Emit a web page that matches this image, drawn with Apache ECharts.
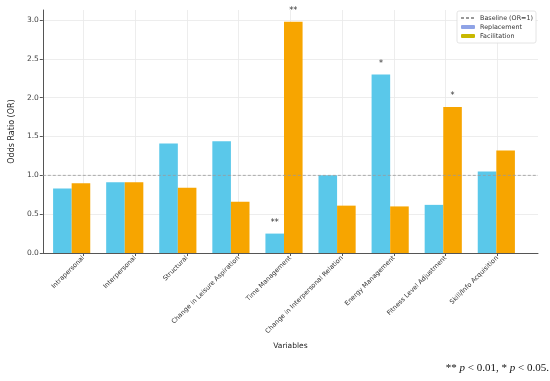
<!DOCTYPE html>
<html>
<head>
<meta charset="utf-8">
<script src="https://cdn.jsdelivr.net/npm/echarts@6/dist/echarts.min.js"></script>
<style>html,body{margin:0;padding:0;background:#fff;}#c{width:550px;height:381px;}</style>
</head>
<body>
<div id="c"></div>
<script>
const categories = ['Intrapersonal','Interpersonal','Structural','Change in Leisure Aspiration','Time Management','Change in Interpersonal Relation','Energy Management','Fitness Level Adjustment','Skill/Info Acquisition'];
const replacement = [0.83, 0.91, 1.41, 1.44, 0.25, 1.00, 2.30, 0.62, 1.05];
const facilitation = [0.90, 0.91, 0.84, 0.66, 2.98, 0.61, 0.60, 1.88, 1.32];
const replStars = ['', '', '', '', '**', '', '*', '', ''];
const faciStars = ['', '', '', '', '**', '', '', '*', ''];
const yTicks = [0, 0.5, 1.0, 1.5, 2.0, 2.5, 3.0];
const xPositions = categories.map((c, i) => i);

// layout (pixels)
const W = 550, gl = 30, gr = 12;
const xMin = -0.785, xMax = 8.785;
const unit = (W - gl - gr) / (xMax - xMin);
const barGridLeft = gl + (-0.5 - xMin) * unit;
const barGridRight = gr + (xMax - 8.5) * unit;
const yMax = 3.13;

function mk(vals, stars) {
  return vals.map((v, i) => {
    const d = { value: v };
    if (stars[i]) {
      d.label = { show: true, position: 'top', distance: 7, formatter: stars[i], fontSize: 8, color: '#333' };
    }
    return d;
  });
}

const chart = echarts.init(document.getElementById('c'), null, { renderer: 'canvas' });
chart.setOption({
  animation: false,
  backgroundColor: '#fff',
  textStyle: { fontFamily: 'DejaVu Sans' },
  grid: [
    { left: gl, right: gr, top: 10, bottom: 128 },
    { left: barGridLeft, right: barGridRight, top: 10, bottom: 128 }
  ],
  legend: {
    orient: 'vertical',
    right: 14, top: 11,
    padding: [4, 3, 4, 3],
    itemGap: 3,
    itemWidth: 14, itemHeight: 4,
    borderColor: '#dddddd', borderWidth: 0.8, borderRadius: 2,
    backgroundColor: 'rgba(255,255,255,0.85)',
    textStyle: { fontSize: 6.4, color: '#333', fontFamily: 'DejaVu Sans' },
    data: [
      { name: 'Baseline (OR=1)', itemStyle: { opacity: 0 }, lineStyle: { opacity: 1 } },
      { name: 'Replacement', itemStyle: { color: '#8fa3e6' } },
      { name: 'Facilitation', itemStyle: { color: '#c8b800' } }
    ]
  },
  xAxis: [
    {
      gridIndex: 0,
      type: 'value',
      min: xMin, max: xMax,
      name: 'Variables',
      nameLocation: 'middle',
      nameGap: 77,
      nameTextStyle: { fontSize: 7.5, color: '#222' },
      axisLine: { show: true, onZero: false, lineStyle: { color: '#555', width: 1 } },
      axisTick: { show: true, length: 3, customValues: xPositions, lineStyle: { color: '#555' } },
      splitLine: { show: true, lineStyle: { color: '#e8e8e8', width: 0.8 } },
      axisLabel: {
        customValues: xPositions,
        rotate: 45,
        fontSize: 6.5,
        color: '#333',
        margin: 4,
        formatter: v => categories[Math.round(v)]
      }
    },
    {
      gridIndex: 1,
      type: 'category',
      data: categories,
      show: false
    }
  ],
  yAxis: [
    {
      gridIndex: 0,
      type: 'value',
      min: 0, max: yMax,
      name: 'Odds Ratio (OR)',
      nameLocation: 'middle',
      nameGap: 21,
      nameTextStyle: { fontSize: 8, color: '#222' },
      axisLine: { show: true, onZero: false, lineStyle: { color: '#555', width: 1 } },
      axisTick: { show: true, length: 3, customValues: yTicks, lineStyle: { color: '#555' } },
      splitLine: { show: true, lineStyle: { color: '#e8e8e8', width: 0.8 } },
      axisLabel: {
        customValues: yTicks,
        fontSize: 7.5,
        color: '#444',
        margin: 4,
        formatter: v => v.toFixed(1)
      }
    },
    {
      gridIndex: 1,
      type: 'value',
      min: 0, max: yMax,
      show: false,
      splitLine: { show: false }
    }
  ],
  series: [
    {
      name: 'Baseline (OR=1)',
      type: 'line',
      xAxisIndex: 0, yAxisIndex: 0,
      data: [[xMin, 1], [xMax, 1]],
      showSymbol: false,
      symbol: 'none',
      z: 5,
      itemStyle: { color: '#999' },
      lineStyle: { color: '#999', width: 0.8, type: [3, 2] }
    },
    {
      name: 'Replacement',
      type: 'bar',
      xAxisIndex: 1, yAxisIndex: 1,
      barWidth: 0.35 * unit,
      barGap: '0%',
      itemStyle: { color: '#5ac8ea' },
      data: mk(replacement, replStars)
    },
    {
      name: 'Facilitation',
      type: 'bar',
      xAxisIndex: 1, yAxisIndex: 1,
      barWidth: 0.35 * unit,
      barGap: '0%',
      itemStyle: { color: '#f7a500' },
      data: mk(facilitation, faciStars)
    }
  ],
  graphic: [
    {
      type: 'text',
      right: 1,
      top: 363,
      style: {
        text: '{n|** }{i|p}{n| < 0.01, * }{i|p}{n| < 0.05.}',
        rich: {
          n: { fontFamily: 'Liberation Serif', fontSize: 11, fill: '#111' },
          i: { fontFamily: 'Liberation Serif', fontSize: 11, fontStyle: 'italic', fill: '#111' }
        }
      }
    }
  ]
});
</script>
</body>
</html>
